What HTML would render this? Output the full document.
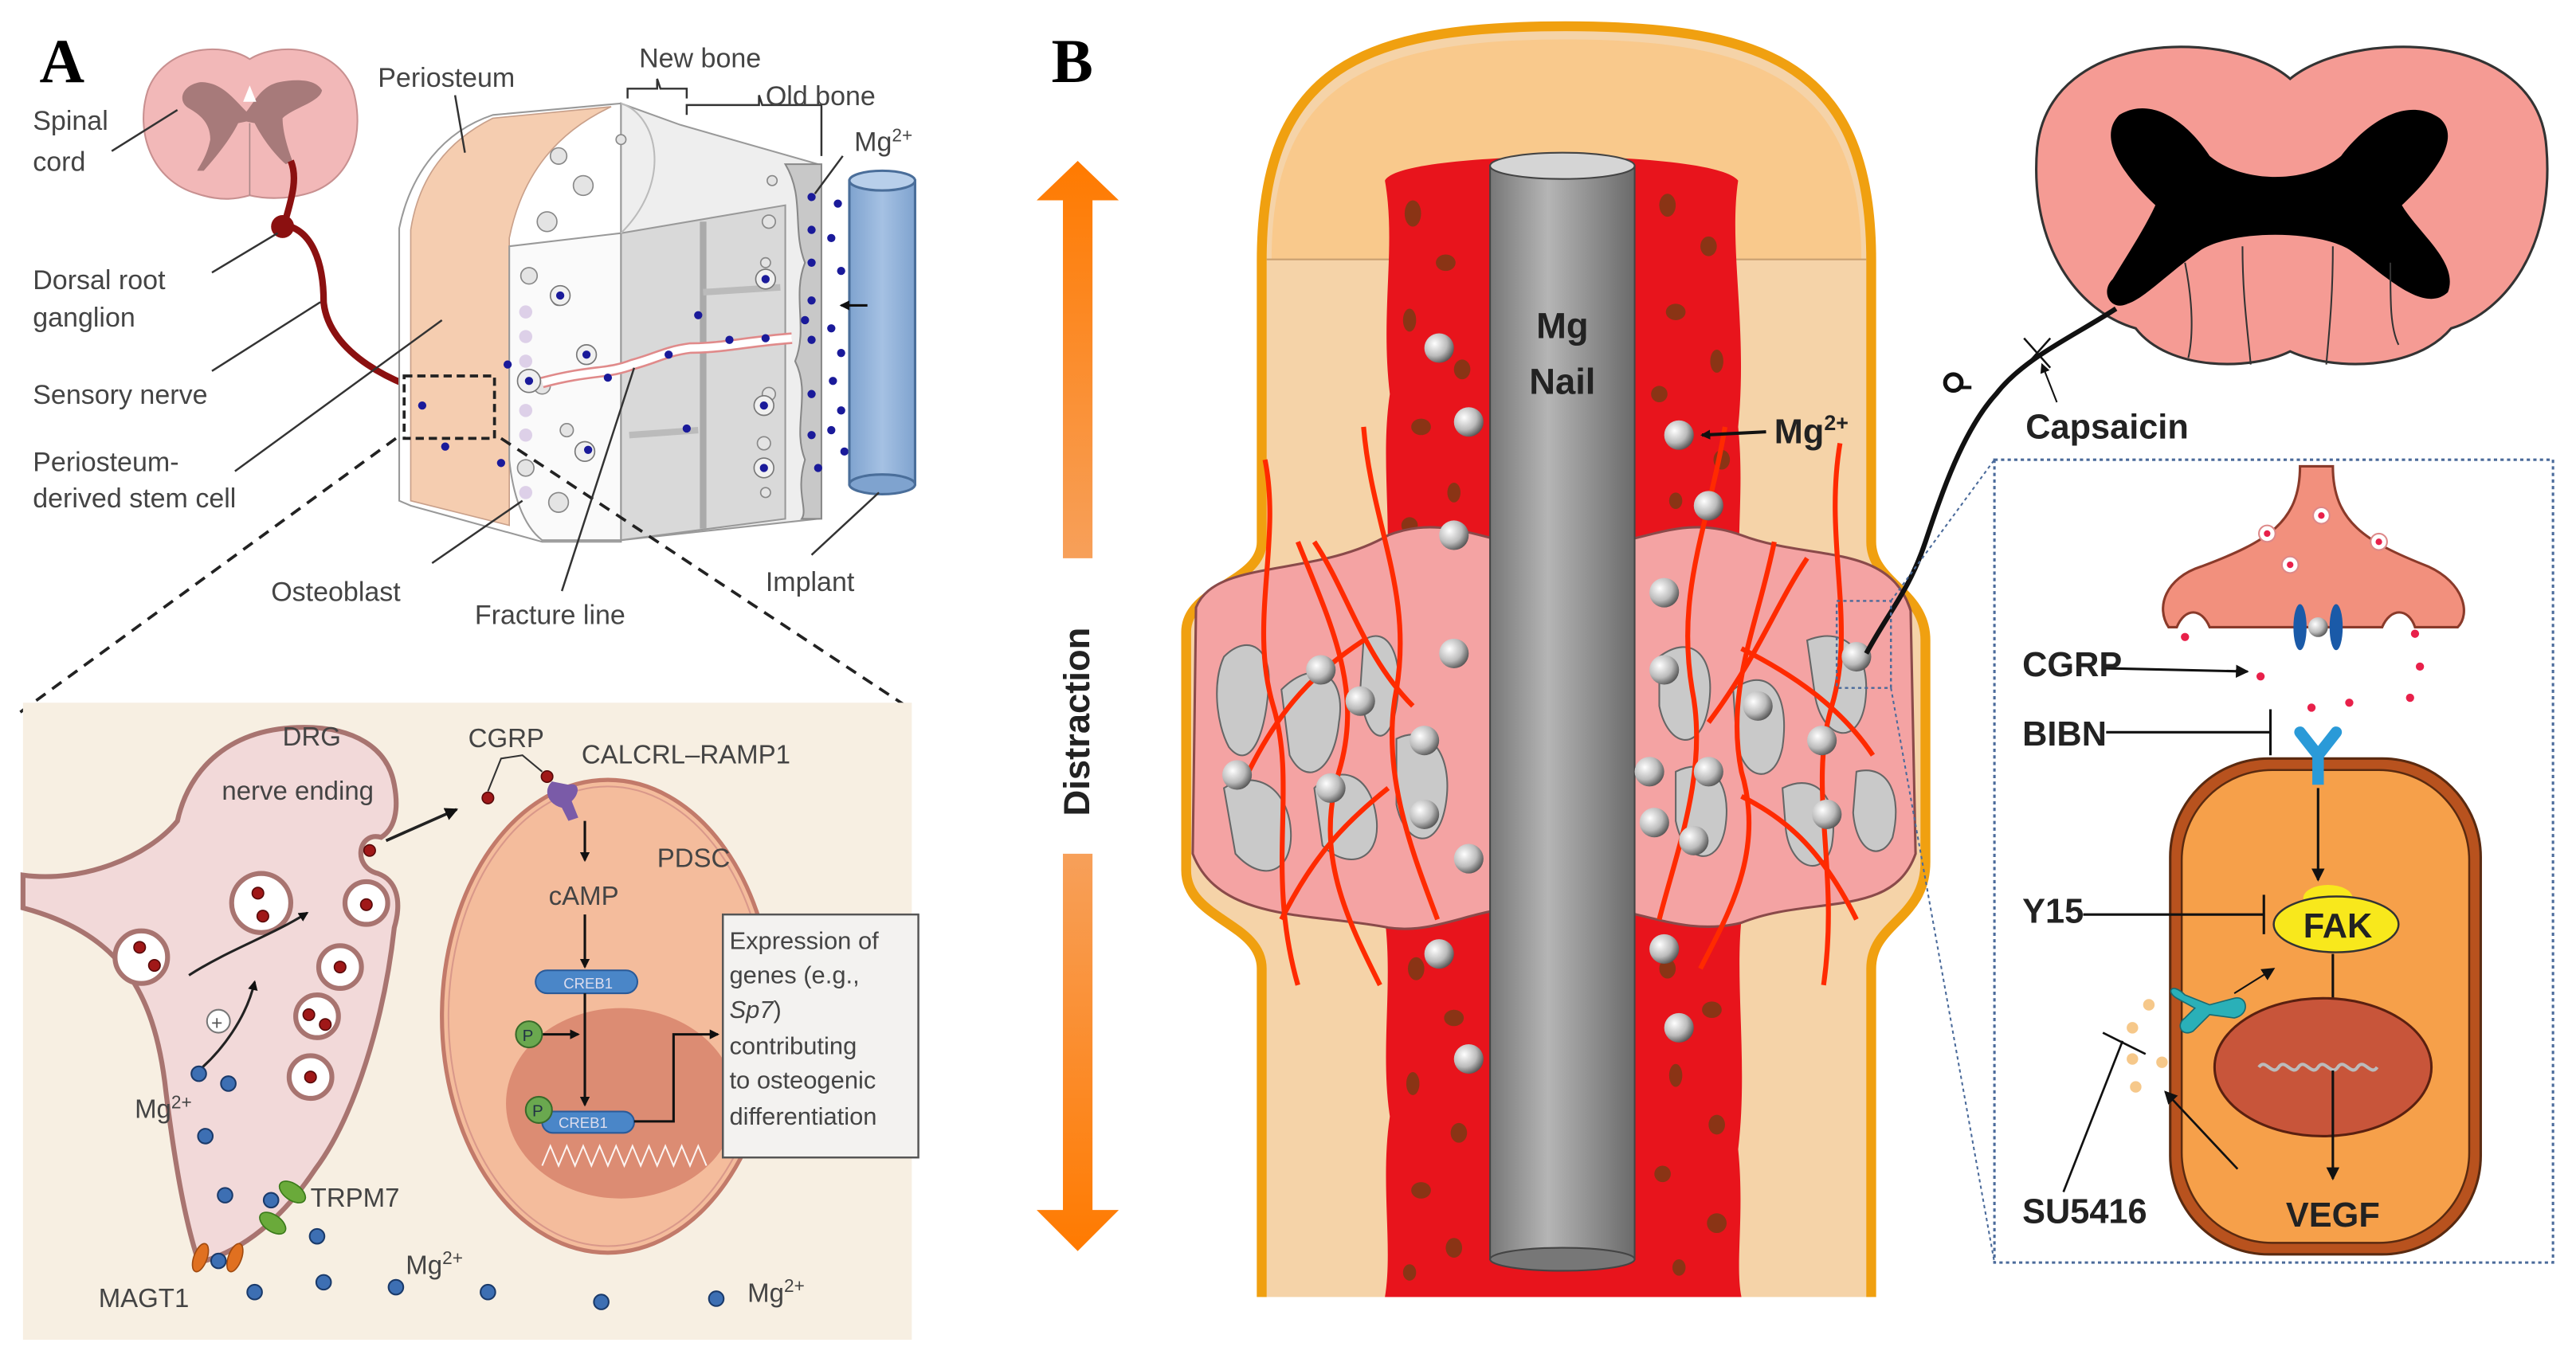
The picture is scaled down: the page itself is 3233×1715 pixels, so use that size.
<!DOCTYPE html>
<html><head><meta charset="utf-8"><style>
html,body{margin:0;padding:0;background:#fff}
svg{display:block}
text{font-family:"Liberation Sans",Arial,sans-serif}
</style></head><body>
<svg width="3233" height="1715" viewBox="0 0 1568 832" preserveAspectRatio="none" xmlns="http://www.w3.org/2000/svg">
<defs>
<radialGradient id="sph" cx="0.35" cy="0.35" r="0.7"><stop offset="0" stop-color="#fff"/><stop offset="0.6" stop-color="#bbb"/><stop offset="1" stop-color="#555"/></radialGradient>
<linearGradient id="nail" x1="0" x2="1"><stop offset="0" stop-color="#777"/><stop offset="0.4" stop-color="#b5b5b5"/><stop offset="1" stop-color="#6a6a6a"/></linearGradient>
<linearGradient id="arr1" x1="0" y1="0" x2="0" y2="1"><stop offset="0" stop-color="#ff7a00"/><stop offset="1" stop-color="#f7a05a"/></linearGradient>
<linearGradient id="arr2" x1="0" y1="0" x2="0" y2="1"><stop offset="0" stop-color="#f7a05a"/><stop offset="1" stop-color="#ff7a00"/></linearGradient>
<linearGradient id="imp" x1="0" x2="1"><stop offset="0" stop-color="#7fa3cf"/><stop offset="0.5" stop-color="#a5c1e3"/><stop offset="1" stop-color="#7fa3cf"/></linearGradient>
<marker id="ah" markerWidth="8" markerHeight="8" refX="7" refY="4" orient="auto" markerUnits="userSpaceOnUse"><path d="M0,0 L8,4 L0,8 Z" fill="#111"/></marker>
<marker id="ahs" markerWidth="6" markerHeight="6" refX="5" refY="3" orient="auto" markerUnits="userSpaceOnUse"><path d="M0,0 L6,3 L0,6 Z" fill="#111"/></marker>
</defs>

<!-- ================= PANEL A ================= -->
<text x="24" y="50" font-weight="bold" font-size="38" style="font-family:'Liberation Serif',serif">A</text>

<!-- spinal cord -->
<path d="M152,36 C135,25 100,28 90,55 C82,80 92,110 120,118 C135,123 145,121 152,119 C160,121 175,122 190,117 C215,108 222,80 215,55 C205,28 170,25 152,36 Z" fill="#f2b8b8" stroke="#c89090" stroke-width="1"/>
<path d="M150,68 C142,60 135,50 122,50 C110,52 108,62 115,66 C122,70 128,75 128,85 C126,95 122,100 120,104 L124,104 C132,95 140,85 145,75 L150,74 L155,75 C160,85 168,95 174,100 L178,98 C175,90 172,80 172,72 C178,66 195,62 196,55 C192,48 180,48 170,50 C160,52 156,60 150,68 Z" fill="#a77a7a"/>
<path d="M152,52 L148,62 L156,62 Z" fill="#fff"/>
<line x1="152" y1="75" x2="152" y2="119" stroke="#a88" stroke-width="0.8"/>
<!-- nerve -->
<path d="M177,98 C182,110 176,125 173,137 C190,140 197,160 197,184 C200,215 240,235 272,242" fill="none" stroke="#8b1010" stroke-width="4"/>
<circle cx="172" cy="138" r="7" fill="#8b1010"/>
<path d="M268,236 L275,242 L268,250" fill="none" stroke="#8b1010" stroke-width="3"/>

<!-- bone block -->
<path d="M243,139 C250,105 270,80 300,70 L378,63 L378,330 L330,330 L250,308 L243,305 Z" fill="#fff" stroke="#999" stroke-width="1"/>
<path d="M250,140 C255,108 272,86 300,72 L372,65 C340,80 318,105 310,145 L310,320 L250,305 Z" fill="#f5cdb0" stroke="#c9a08a" stroke-width="0.8"/>
<path d="M378,63 L414,76 L498,100 L498,316 L378,329 Z" fill="#eeeeee" stroke="#999" stroke-width="1"/>
<path d="M310,150 L378,142 L378,329 L330,329 C318,320 312,300 310,280 Z" fill="#fafafa" stroke="#999" stroke-width="1"/>
<path d="M378,142 L478,125 L478,316 L378,329 Z" fill="#d9d9d9" stroke="#999" stroke-width="1"/>
<line x1="428" y1="135" x2="428" y2="322" stroke="#aaa" stroke-width="4"/>
<line x1="428" y1="178" x2="475" y2="175" stroke="#bbb" stroke-width="4"/>
<line x1="383" y1="265" x2="425" y2="262" stroke="#bbb" stroke-width="4"/>
<path d="M478,100 C490,120 482,140 490,160 C482,180 492,200 484,220 C494,240 482,260 490,280 C484,300 492,310 488,316 L500,316 L500,100 Z" fill="#c8c8c8" stroke="#888" stroke-width="1"/>
<path d="M378,63 C400,70 410,110 378,142" fill="none" stroke="#bbb" stroke-width="1"/>
<g fill="#e4e4e4" stroke="#888" stroke-width="0.8">
<circle cx="340" cy="95" r="5"/><circle cx="355" cy="113" r="6"/><circle cx="333" cy="135" r="6"/><circle cx="322" cy="168" r="5"/><circle cx="340" cy="182" r="4"/><circle cx="330" cy="235" r="5"/><circle cx="345" cy="262" r="4"/><circle cx="320" cy="285" r="5"/><circle cx="340" cy="306" r="6"/><circle cx="470" cy="110" r="3"/><circle cx="468" cy="135" r="4"/><circle cx="466" cy="160" r="3"/><circle cx="468" cy="240" r="4"/><circle cx="465" cy="270" r="4"/><circle cx="466" cy="300" r="3"/><circle cx="378" cy="85" r="3"/>
</g>
<g fill="#f0f0f0" stroke="#777" stroke-width="0.8">
<circle cx="341" cy="180" r="6"/><circle cx="357" cy="216" r="6"/><circle cx="322" cy="232" r="7"/><circle cx="356" cy="275" r="6"/><circle cx="466" cy="170" r="6"/><circle cx="465" cy="247" r="6"/><circle cx="465" cy="285" r="6"/>
</g>
<g fill="#ddd0e8"><circle cx="320" cy="190" r="4"/><circle cx="320" cy="205" r="4"/><circle cx="320" cy="220" r="4"/><circle cx="320" cy="250" r="4"/><circle cx="320" cy="265" r="4"/><circle cx="320" cy="300" r="4"/></g>
<path d="M330,233 C360,225 370,228 385,222 C400,218 405,214 420,212 C440,212 455,208 482,206" fill="none" stroke="#e08a8a" stroke-width="7"/>
<path d="M330,233 C360,225 370,228 385,222 C400,218 405,214 420,212 C440,212 455,208 482,206" fill="none" stroke="#fff" stroke-width="4.5"/>
<g fill="#1a1a9a">
<circle cx="257" cy="247" r="2.5"/><circle cx="271" cy="272" r="2.5"/><circle cx="309" cy="222" r="2.5"/><circle cx="305" cy="282" r="2.5"/><circle cx="322" cy="232" r="2.5"/><circle cx="341" cy="180" r="2.5"/><circle cx="357" cy="216" r="2.5"/><circle cx="358" cy="274" r="2.5"/><circle cx="370" cy="230" r="2.5"/><circle cx="407" cy="216" r="2.5"/><circle cx="425" cy="192" r="2.5"/><circle cx="418" cy="261" r="2.5"/><circle cx="444" cy="207" r="2.5"/><circle cx="466" cy="170" r="2.5"/><circle cx="466" cy="206" r="2.5"/><circle cx="465" cy="247" r="2.5"/><circle cx="465" cy="285" r="2.5"/><circle cx="494" cy="120" r="2.5"/><circle cx="494" cy="140" r="2.5"/><circle cx="494" cy="160" r="2.5"/><circle cx="494" cy="183" r="2.5"/><circle cx="494" cy="207" r="2.5"/><circle cx="494" cy="240" r="2.5"/><circle cx="494" cy="265" r="2.5"/><circle cx="498" cy="285" r="2.5"/><circle cx="510" cy="124" r="2.5"/><circle cx="506" cy="145" r="2.5"/><circle cx="512" cy="165" r="2.5"/><circle cx="506" cy="200" r="2.5"/><circle cx="512" cy="215" r="2.5"/><circle cx="507" cy="232" r="2.5"/><circle cx="512" cy="250" r="2.5"/><circle cx="506" cy="262" r="2.5"/><circle cx="514" cy="275" r="2.5"/><circle cx="490" cy="195" r="2.5"/>
</g>
<rect x="517" y="110" width="40" height="185" fill="url(#imp)" stroke="#4a6e9a" stroke-width="1.5"/>
<ellipse cx="537" cy="295" rx="20" ry="6" fill="#7fa3cf" stroke="#4a6e9a" stroke-width="1.5"/>
<ellipse cx="537" cy="110" rx="20" ry="6" fill="#b8cfea" stroke="#4a6e9a" stroke-width="1.5"/>
<line x1="528" y1="186" x2="512" y2="186" stroke="#111" stroke-width="1.5" marker-end="url(#ahs)"/>
<rect x="246" y="229" width="55" height="38" fill="none" stroke="#222" stroke-width="1.8" stroke-dasharray="5,3"/>
<line x1="241" y1="267" x2="12" y2="434" stroke="#222" stroke-width="1.8" stroke-dasharray="7,5"/>
<line x1="305" y1="267" x2="553" y2="431" stroke="#222" stroke-width="1.8" stroke-dasharray="7,5"/>
<g stroke="#333" stroke-width="1.2" fill="none">
<line x1="68" y1="92" x2="108" y2="67"/>
<line x1="129" y1="166" x2="169" y2="142"/>
<line x1="129" y1="226" x2="195" y2="184"/>
<line x1="143" y1="287" x2="269" y2="195"/>
<line x1="277" y1="58" x2="283" y2="93"/>
<path d="M382,60 L382,54 L400,54 L400,48 L402,54 L418,54 L418,60"/>
<path d="M418,70 L418,64 L462,64 L462,58 L464,64 L500,64 L500,95"/>
<line x1="513" y1="95" x2="496" y2="118"/>
<line x1="263" y1="343" x2="318" y2="305"/>
<line x1="342" y1="360" x2="386" y2="224"/>
<line x1="494" y1="338" x2="535" y2="300"/>
</g>
<g fill="#444" font-size="16.5">
<text x="20" y="79">Spinal</text><text x="20" y="104">cord</text>
<text x="20" y="176">Dorsal root</text><text x="20" y="199">ganglion</text>
<text x="20" y="246">Sensory nerve</text>
<text x="20" y="287">Periosteum-</text><text x="20" y="309">derived stem cell</text>
<text x="230" y="53">Periosteum</text>
<text x="389" y="41">New bone</text>
<text x="466" y="64">Old bone</text>
<text x="520" y="92">Mg<tspan font-size="11" dy="-6">2+</tspan></text>
<text x="165" y="366">Osteoblast</text>
<text x="289" y="380">Fracture line</text>
<text x="466" y="360">Implant</text>
</g>

<!-- bottom box -->
<rect x="14" y="428" width="541" height="388" fill="#f7efe2"/>
<path d="M14,533 C50,538 90,522 108,500 C115,468 140,443 185,443 C215,443 236,455 240,478 C243,494 240,505 232,510 C218,506 214,528 230,532 C241,536 245,548 240,565 C234,620 216,680 192,712 C172,742 148,762 121,769 C112,742 106,705 101,665 C94,600 70,568 14,553 Z" fill="#f2d9d9" stroke="#a87470" stroke-width="3"/>
<g fill="#fff" stroke="#a87470" stroke-width="3">
<circle cx="86" cy="583" r="16"/><circle cx="159" cy="550" r="18"/><circle cx="223" cy="550" r="13"/><circle cx="207" cy="589" r="13"/><circle cx="193" cy="619" r="13"/><circle cx="189" cy="656" r="13"/>
</g>
<g fill="#a01818" stroke="#5a0a0a" stroke-width="0.8">
<circle cx="85" cy="577" r="3.5"/><circle cx="94" cy="588" r="3.5"/><circle cx="157" cy="544" r="3.5"/><circle cx="160" cy="558" r="3.5"/><circle cx="223" cy="551" r="3.5"/><circle cx="207" cy="589" r="3.5"/><circle cx="188" cy="618" r="3.5"/><circle cx="198" cy="624" r="3.5"/><circle cx="189" cy="656" r="3.5"/><circle cx="225" cy="518" r="3.5"/><circle cx="297" cy="486" r="3.5"/><circle cx="333" cy="473" r="3.5"/>
</g>
<path d="M115,594 C140,578 165,570 187,556" fill="none" stroke="#222" stroke-width="1.5" marker-end="url(#ahs)"/>
<circle cx="133" cy="622" r="7" fill="#fff" stroke="#777"/><text x="128.5" y="627" font-size="12" fill="#555">+</text>
<path d="M121,652 C135,640 150,620 155,598" fill="none" stroke="#222" stroke-width="1.5" marker-end="url(#ahs)"/>
<line x1="235" y1="512" x2="278" y2="493" stroke="#222" stroke-width="1.8" marker-end="url(#ah)"/>
<path d="M297,482 L305,462 L318,460 L330,470" fill="none" stroke="#333" stroke-width="1"/>
<ellipse cx="370" cy="619" rx="101" ry="144" fill="#f4bc9c" stroke="#c27a6a" stroke-width="2.5"/>
<ellipse cx="370" cy="619" rx="97" ry="140" fill="none" stroke="#d9988a" stroke-width="1"/>
<ellipse cx="378" cy="672" rx="70" ry="58" fill="#dc8c73"/>
<path d="M336,476 C330,482 334,490 342,492 L346,500 L352,498 L348,488 C354,482 352,476 346,478 Z" fill="#7a5ba8"/>
<line x1="356" y1="500" x2="356" y2="524" stroke="#111" stroke-width="1.5" marker-end="url(#ahs)"/>
<text x="334" y="551" font-size="16" fill="#444">cAMP</text>
<line x1="356" y1="557" x2="356" y2="589" stroke="#111" stroke-width="1.5" marker-end="url(#ahs)"/>
<rect x="326" y="591" width="62" height="14" rx="7" fill="#4a86c8" stroke="#2a5a98"/>
<text x="343" y="602" font-size="9" fill="#dde">CREB1</text>
<line x1="356" y1="605" x2="356" y2="673" stroke="#111" stroke-width="1.5" marker-end="url(#ahs)"/>
<line x1="330" y1="630" x2="352" y2="630" stroke="#111" stroke-width="1.5" marker-end="url(#ahs)"/>
<circle cx="322" cy="630" r="8" fill="#6aa84f" stroke="#3a6a2a"/><text x="318" y="634" font-size="10" fill="#234">P</text>
<rect x="330" y="677" width="56" height="13" rx="6.5" fill="#4a86c8" stroke="#2a5a98"/>
<text x="340" y="687" font-size="9" fill="#dde">CREB1</text>
<circle cx="328" cy="676" r="8" fill="#6aa84f" stroke="#3a6a2a"/><text x="324" y="680" font-size="10" fill="#234">P</text>
<path d="M386,683 L410,683 L410,630 L437,630" fill="none" stroke="#111" stroke-width="1.5" marker-end="url(#ahs)"/>
<path d="M330,710 l5,-12 l5,12 l5,-12 l5,12 l5,-12 l5,12 l5,-12 l5,12 l5,-12 l5,12 l5,-12 l5,12 l5,-12 l5,12 l5,-12 l5,12 l5,-12 l5,12 l5,-12 l5,12" fill="none" stroke="#fff" stroke-width="1" opacity="0.9"/>
<rect x="440" y="557" width="119" height="148" fill="#f3f2f0" stroke="#555" stroke-width="1.2"/>
<g font-size="15" fill="#444">
<text x="444" y="578">Expression of</text><text x="444" y="599">genes (e.g.,</text><text x="444" y="620"><tspan font-style="italic">Sp7</tspan>)</text><text x="444" y="642">contributing</text><text x="444" y="663">to osteogenic</text><text x="444" y="685">differentiation</text>
</g>
<g font-size="16" fill="#444">
<text x="285" y="455">CGRP</text>
<text x="354" y="465">CALCRL–RAMP1</text>
<text x="400" y="528">PDSC</text>
<text x="172" y="454">DRG</text>
<text x="135" y="487">nerve ending</text>
<text x="82" y="681">Mg<tspan font-size="11" dy="-6">2+</tspan></text>
<text x="189" y="735">TRPM7</text>
<text x="60" y="796">MAGT1</text>
<text x="247" y="776">Mg<tspan font-size="11" dy="-6">2+</tspan></text>
<text x="455" y="793">Mg<tspan font-size="11" dy="-6">2+</tspan></text>
</g>
<g fill="#6aaa3a" stroke="#3a7a1a" stroke-width="0.8">
<ellipse cx="178" cy="726" rx="9" ry="5" transform="rotate(35 178 726)"/><ellipse cx="166" cy="745" rx="9" ry="5" transform="rotate(35 166 745)"/>
</g>
<g fill="#e07020" stroke="#a04a10" stroke-width="0.8">
<ellipse cx="122" cy="766" rx="4" ry="9" transform="rotate(20 122 766)"/><ellipse cx="143" cy="766" rx="4" ry="9" transform="rotate(20 143 766)"/>
</g>
<g fill="#3d6fb3" stroke="#1a3a6a" stroke-width="1">
<circle cx="121" cy="654" r="4.5"/><circle cx="139" cy="660" r="4.5"/><circle cx="125" cy="692" r="4.5"/><circle cx="137" cy="728" r="4.5"/><circle cx="165" cy="731" r="4.5"/><circle cx="193" cy="753" r="4.5"/><circle cx="133" cy="768" r="4.5"/><circle cx="155" cy="787" r="4.5"/><circle cx="197" cy="781" r="4.5"/><circle cx="241" cy="784" r="4.5"/><circle cx="297" cy="787" r="4.5"/><circle cx="366" cy="793" r="4.5"/><circle cx="436" cy="791" r="4.5"/>
</g>

<!-- ================= PANEL B ================= -->
<text x="640" y="50" font-weight="bold" font-size="38" style="font-family:'Liberation Serif',serif">B</text>
<path d="M656,98 L681,122 L665,122 L665,340 L647,340 L647,122 L631,122 Z" fill="url(#arr1)"/>
<path d="M647,520 L665,520 L665,737 L681,737 L656,762 L631,737 L647,737 Z" fill="url(#arr2)"/>
<text x="0" y="0" font-size="22" font-weight="bold" fill="#222" transform="translate(663,497) rotate(-90)">Distraction</text>

<path d="M768,790 L768,590 C768,562 722,560 722,530 L722,385 C722,358 768,355 768,330 L768,159 C768,40 830,16 953,16 C1076,16 1139,40 1139,159 L1139,330 C1139,355 1172,360 1172,390 L1172,525 C1172,560 1139,562 1139,590 L1139,790" fill="#f5d3a8" stroke="#f0a010" stroke-width="6"/>
<path d="M774,158 C774,50 835,24 953,24 C1071,24 1133,50 1133,158 Z" fill="#f9c98c"/>
<line x1="771" y1="158" x2="1136" y2="158" stroke="#c9a070" stroke-width="1"/>
<path d="M843,110 C848,100 900,96 951,95 C1000,96 1050,100 1058,110 C1052,150 1064,200 1058,260 C1062,300 1056,330 1060,360 L1060,560 C1056,600 1064,650 1058,700 C1062,740 1056,770 1060,790 L843,790 C848,760 840,720 846,680 C840,640 848,600 843,560 L843,360 C848,320 840,280 846,240 C840,190 850,150 843,110 Z" fill="#e8141c"/>
<g fill="#8a3415">
<ellipse cx="860" cy="130" rx="5" ry="8"/><ellipse cx="880" cy="160" rx="6" ry="5"/><ellipse cx="858" cy="195" rx="4" ry="7"/><ellipse cx="890" cy="225" rx="5" ry="6"/><ellipse cx="865" cy="260" rx="6" ry="5"/><ellipse cx="885" cy="300" rx="4" ry="6"/><ellipse cx="858" cy="320" rx="5" ry="5"/>
<ellipse cx="1015" cy="125" rx="5" ry="7"/><ellipse cx="1040" cy="150" rx="5" ry="6"/><ellipse cx="1020" cy="190" rx="6" ry="5"/><ellipse cx="1045" cy="220" rx="4" ry="7"/><ellipse cx="1010" cy="240" rx="5" ry="5"/><ellipse cx="1048" cy="280" rx="5" ry="6"/><ellipse cx="1020" cy="305" rx="4" ry="5"/>
<ellipse cx="862" cy="590" rx="5" ry="7"/><ellipse cx="885" cy="620" rx="6" ry="5"/><ellipse cx="860" cy="660" rx="4" ry="7"/><ellipse cx="888" cy="690" rx="5" ry="6"/><ellipse cx="865" cy="725" rx="6" ry="5"/><ellipse cx="885" cy="760" rx="5" ry="6"/><ellipse cx="858" cy="775" rx="4" ry="5"/>
<ellipse cx="1015" cy="590" rx="5" ry="6"/><ellipse cx="1042" cy="615" rx="6" ry="5"/><ellipse cx="1020" cy="655" rx="4" ry="7"/><ellipse cx="1045" cy="685" rx="5" ry="6"/><ellipse cx="1012" cy="715" rx="5" ry="5"/><ellipse cx="1045" cy="745" rx="6" ry="6"/><ellipse cx="1022" cy="772" rx="4" ry="5"/>
</g>
<path d="M728,370 C740,340 800,352 845,326 C880,312 905,332 951,336 C1000,332 1022,312 1060,326 C1102,342 1150,330 1163,372 L1166,520 C1152,560 1102,545 1060,562 C1020,572 990,548 951,552 C902,548 878,570 845,565 C800,556 742,562 726,520 Z" fill="#f4a3a3" stroke="#8a4a4a" stroke-width="1.5"/>
<g fill="#c9c9c9" stroke="#666" stroke-width="1">
<path d="M745,400 C760,385 775,395 772,420 C770,450 760,470 748,455 C740,440 738,415 745,400 Z"/>
<path d="M780,420 C800,400 820,410 815,440 C812,470 795,480 785,460 Z"/>
<path d="M745,480 C760,470 780,475 785,500 C790,530 770,540 752,520 Z"/>
<path d="M830,390 C845,380 855,400 850,430 C845,460 830,450 828,420 Z"/>
<path d="M800,480 C815,465 835,470 838,500 C840,525 820,530 805,515 Z"/>
<path d="M850,450 C870,440 885,460 880,490 C875,520 855,515 850,490 Z"/>
<path d="M1010,400 C1030,385 1045,400 1040,430 C1035,460 1015,455 1010,430 Z"/>
<path d="M1055,420 C1075,405 1090,420 1085,455 C1080,480 1060,475 1057,450 Z"/>
<path d="M1100,390 C1125,380 1140,400 1135,430 C1130,455 1110,450 1105,425 Z"/>
<path d="M1020,470 C1040,460 1055,475 1050,505 C1045,530 1025,525 1020,500 Z"/>
<path d="M1085,480 C1105,470 1120,485 1115,515 C1110,535 1090,530 1087,505 Z"/>
<path d="M1130,470 C1150,465 1158,485 1152,510 C1145,525 1130,520 1128,495 Z"/>
</g>
<g fill="none" stroke="#ff2a00" stroke-width="3">
<path d="M770,280 C780,330 760,380 775,430 C790,480 770,530 790,600"/>
<path d="M790,330 C810,380 830,420 815,470 C800,520 820,560 840,600"/>
<path d="M830,260 C835,320 860,360 850,420 C840,470 860,520 875,560"/>
<path d="M760,470 C780,430 800,410 830,390"/>
<path d="M780,560 C800,520 820,500 845,480"/>
<path d="M800,330 C820,360 830,400 860,430"/>
<path d="M1120,270 C1110,330 1130,380 1115,430 C1100,480 1120,530 1110,600"/>
<path d="M1080,330 C1070,380 1050,420 1060,470 C1075,520 1050,560 1035,590"/>
<path d="M1050,260 C1040,320 1020,360 1030,420 C1040,470 1020,520 1010,560"/>
<path d="M1140,460 C1120,430 1090,410 1060,395"/>
<path d="M1130,560 C1110,520 1090,500 1060,485"/>
<path d="M1100,340 C1080,370 1070,400 1040,440"/>
</g>
<rect x="907" y="101" width="88" height="666" fill="url(#nail)" stroke="#444" stroke-width="1"/>
<ellipse cx="951" cy="767" rx="44" ry="7" fill="#777" stroke="#444"/>
<ellipse cx="951" cy="101" rx="44" ry="8" fill="#d5d5d5" stroke="#444"/>
<text x="951" y="206" text-anchor="middle" font-size="22" font-weight="bold" fill="#222">Mg</text>
<text x="951" y="240" text-anchor="middle" font-size="22" font-weight="bold" fill="#222">Nail</text>
<g fill="url(#sph)">
<circle cx="876" cy="212" r="9"/><circle cx="894" cy="257" r="9"/><circle cx="1022" cy="265" r="9"/><circle cx="1040" cy="308" r="9"/><circle cx="885" cy="326" r="9"/><circle cx="1013" cy="361" r="9"/><circle cx="804" cy="408" r="9"/><circle cx="885" cy="398" r="9"/><circle cx="1013" cy="408" r="9"/><circle cx="1130" cy="400" r="9"/><circle cx="828" cy="427" r="9"/><circle cx="1070" cy="430" r="9"/><circle cx="867" cy="451" r="9"/><circle cx="1109" cy="451" r="9"/><circle cx="753" cy="472" r="9"/><circle cx="810" cy="480" r="9"/><circle cx="1004" cy="470" r="9"/><circle cx="1040" cy="470" r="9"/><circle cx="867" cy="496" r="9"/><circle cx="1007" cy="501" r="9"/><circle cx="1112" cy="496" r="9"/><circle cx="894" cy="523" r="9"/><circle cx="1031" cy="512" r="9"/><circle cx="876" cy="581" r="9"/><circle cx="1013" cy="578" r="9"/><circle cx="1022" cy="626" r="9"/><circle cx="894" cy="645" r="9"/>
</g>
<line x1="1075" y1="263" x2="1036" y2="265" stroke="#111" stroke-width="2" marker-end="url(#ahs)"/>
<text x="1080" y="270" font-size="21" font-weight="bold" fill="#222">Mg<tspan font-size="13" dy="-8">2+</tspan></text>

<path d="M1394,48 C1360,18 1248,16 1240,90 C1235,150 1265,190 1300,200 C1320,226 1370,226 1394,214 C1420,226 1470,226 1492,200 C1525,190 1555,150 1550,90 C1545,16 1430,18 1394,48 Z" fill="#f59b94" stroke="#333" stroke-width="1.5"/>
<path d="M1290,70 C1310,58 1332,75 1345,95 C1365,112 1405,112 1425,95 C1440,75 1465,58 1485,72 C1500,85 1478,110 1462,125 C1472,142 1497,160 1490,178 C1475,192 1450,166 1430,152 C1410,140 1360,140 1340,152 C1320,166 1305,182 1295,185 C1285,190 1278,178 1286,170 C1295,155 1305,140 1312,125 C1296,110 1275,85 1290,70 Z" fill="#000"/>
<g fill="none" stroke="#333" stroke-width="1"><path d="M1330,160 C1335,185 1335,205 1332,218"/><path d="M1365,150 C1365,180 1368,200 1370,222"/><path d="M1420,150 C1420,180 1418,200 1416,222"/><path d="M1455,160 C1455,185 1455,200 1460,210"/></g>
<path d="M1288,188 C1262,205 1232,218 1215,240 C1195,262 1182,300 1172,330 C1162,360 1150,372 1136,398" fill="none" stroke="#111" stroke-width="3"/>
<path d="M1200,236 L1193,236" stroke="#111" stroke-width="2"/>
<circle cx="1189" cy="233" r="5" fill="#fff" stroke="#111" stroke-width="2.5"/>
<path d="M1232,206 L1248,224 M1248,206 L1232,224" stroke="#111" stroke-width="1.2"/>
<line x1="1252" y1="245" x2="1243" y2="222" stroke="#111" stroke-width="1" marker-end="url(#ahs)"/>
<text x="1233" y="267" font-size="21" font-weight="bold" fill="#222">Capsaicin</text>

<rect x="1214" y="280" width="340" height="489" fill="none" stroke="#4a6a9a" stroke-width="1.5" stroke-dasharray="2,2"/>
<rect x="1118" y="366" width="33" height="53" fill="none" stroke="#4a6a9a" stroke-width="1.2" stroke-dasharray="2,2"/>
<line x1="1151" y1="366" x2="1214" y2="280" stroke="#4a6a9a" stroke-width="1" stroke-dasharray="2,2"/>
<line x1="1151" y1="419" x2="1214" y2="769" stroke="#4a6a9a" stroke-width="1" stroke-dasharray="2,2"/>

<path d="M1400,284 L1420,284 C1420,318 1440,330 1478,345 C1500,355 1504,374 1496,382 L1470,382 C1466,370 1455,370 1450,382 L1345,382 C1340,370 1330,370 1325,382 L1320,382 C1312,370 1318,352 1340,345 C1380,330 1400,318 1400,284 Z" fill="#f2907d" stroke="#8a3a2a" stroke-width="1.5"/>
<g fill="#fff" stroke="#d88"><circle cx="1380" cy="325" r="5"/><circle cx="1413" cy="314" r="5"/><circle cx="1448" cy="330" r="5"/><circle cx="1394" cy="344" r="5"/></g>
<g fill="#e8204a"><circle cx="1380" cy="325" r="2"/><circle cx="1413" cy="314" r="2"/><circle cx="1448" cy="330" r="2"/><circle cx="1394" cy="344" r="2"/><circle cx="1330" cy="388" r="2.5"/><circle cx="1470" cy="386" r="2.5"/><circle cx="1376" cy="412" r="2.5"/><circle cx="1473" cy="406" r="2.5"/><circle cx="1467" cy="425" r="2.5"/><circle cx="1407" cy="431" r="2.5"/><circle cx="1430" cy="428" r="2.5"/></g>
<ellipse cx="1400" cy="382" rx="4" ry="14" fill="#1a5aa8"/><ellipse cx="1422" cy="382" rx="4" ry="14" fill="#1a5aa8"/>
<circle cx="1411" cy="382" r="6" fill="url(#sph)"/>
<line x1="1280" y1="407" x2="1368" y2="409" stroke="#111" stroke-width="1.5" marker-end="url(#ah)"/>
<text x="1231" y="412" font-size="21" font-weight="bold" fill="#222">CGRP</text>
<text x="1231" y="454" font-size="21" font-weight="bold" fill="#222">BIBN</text>
<path d="M1282,446 L1382,446 M1382,432 L1382,460" stroke="#111" stroke-width="1.5" fill="none"/>

<rect x="1321" y="462" width="189" height="302" rx="60" fill="#b8521e" stroke="#5a2a10" stroke-width="1.5"/>
<rect x="1328" y="469" width="175" height="288" rx="55" fill="#f6a04a" stroke="#5a2a10" stroke-width="1.2"/>
<path d="M1411,458 L1411,478" stroke="#2a9ad8" stroke-width="7"/>
<path d="M1411,460 L1400,446 M1411,460 L1422,446" stroke="#2a9ad8" stroke-width="7" stroke-linecap="round"/>
<line x1="1411" y1="480" x2="1411" y2="536" stroke="#111" stroke-width="1.5" marker-end="url(#ah)"/>
<ellipse cx="1417" cy="547" rx="15" ry="8" fill="#f8e81c"/>
<ellipse cx="1422" cy="563" rx="38" ry="17" fill="#f8e81c" stroke="#333" stroke-width="1.2"/>
<text x="1423" y="571" text-anchor="middle" font-size="21" font-weight="bold" fill="#222">FAK</text>
<line x1="1420" y1="581" x2="1420" y2="638" stroke="#111" stroke-width="1.5" marker-end="url(#ah)"/>
<ellipse cx="1414" cy="650" rx="66" ry="42" fill="#c8553a" stroke="#5a2010" stroke-width="1.5"/>
<path d="M1375,650 c4,-6 8,6 12,0 c4,-6 8,6 12,0 c4,-6 8,6 12,0 c4,-6 8,6 12,0 c4,-6 8,6 12,0 c4,-6 8,6 12,0" fill="none" stroke="#bbb" stroke-width="2"/>
<line x1="1420" y1="652" x2="1420" y2="718" stroke="#111" stroke-width="1.5" marker-end="url(#ah)"/>
<text x="1420" y="747" text-anchor="middle" font-size="21" font-weight="bold" fill="#222">VEGF</text>
<text x="1231" y="562" font-size="21" font-weight="bold" fill="#222">Y15</text>
<path d="M1268,557 L1378,557 M1378,545 L1378,569" stroke="#111" stroke-width="1.5" fill="none"/>
<path d="M1330,606 L1345,612 L1360,608 C1368,606 1370,618 1360,620 L1345,618 L1335,628 C1328,632 1324,624 1330,620 L1336,614 L1325,608 C1318,604 1322,598 1330,606 Z" fill="#2ab0b8" stroke="#1a6a70" stroke-width="0.8"/>
<line x1="1360" y1="605" x2="1384" y2="590" stroke="#111" stroke-width="1" marker-end="url(#ah)"/>
<g fill="#f6c88a"><circle cx="1308" cy="612" r="3.5"/><circle cx="1298" cy="626" r="3.5"/><circle cx="1298" cy="645" r="3.5"/><circle cx="1316" cy="647" r="3.5"/><circle cx="1300" cy="662" r="3.5"/></g>
<path d="M1256,726 L1292,634 M1280,629 L1306,642" stroke="#111" stroke-width="1.3" fill="none"/>
<line x1="1362" y1="712" x2="1318" y2="665" stroke="#111" stroke-width="1.3" marker-end="url(#ah)"/>
<text x="1231" y="745" font-size="21" font-weight="bold" fill="#222">SU5416</text>
</svg>
</body></html>
